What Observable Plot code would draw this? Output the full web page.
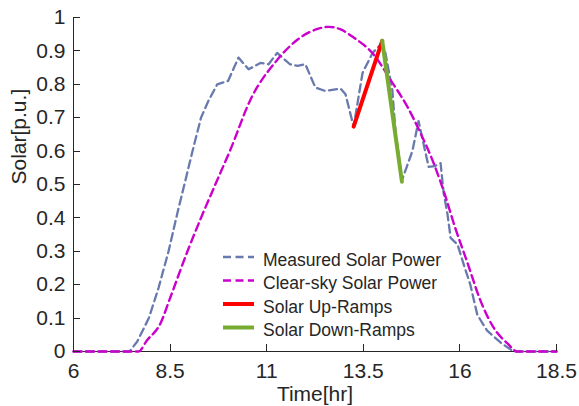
<!DOCTYPE html>
<html>
<head>
<meta charset="utf-8">
<script src="https://cdn.jsdelivr.net/npm/d3@7"></script>
<script src="https://cdn.jsdelivr.net/npm/@observablehq/plot@0.6"></script>
<style>
  html, body { margin: 0; padding: 0; background: #fff; }
  #chart { position: relative; width: 579px; height: 406px; }
  svg { font-family: "Liberation Sans", Arial, Helvetica, sans-serif; }
</style>
</head>
<body>
<div id="chart"></div>
<script>
// ---- Data ----
const measuredTime = [6, 7.45, 7.65, 7.95, 8.2, 8.46, 8.7, 8.87, 9.08, 9.3, 9.49, 9.72, 10.0, 10.27, 10.53, 10.84, 11.05, 11.27, 11.6, 11.8, 12.0, 12.26, 12.52, 12.91, 13.04, 13.25, 13.48, 13.74, 13.95, 14.07, 14.25, 14.33, 14.5, 14.77, 14.93, 15.19, 15.35, 15.5, 15.58, 15.68, 15.76, 15.94, 16.1, 16.27, 16.45, 16.7, 17.05, 17.39, 18.5];
const measuredPower = [0, 0, 0.03, 0.10, 0.19, 0.30, 0.42, 0.50, 0.60, 0.70, 0.75, 0.80, 0.81, 0.88, 0.845, 0.864, 0.86, 0.894, 0.86, 0.855, 0.86, 0.79, 0.78, 0.787, 0.77, 0.673, 0.834, 0.894, 0.919, 0.895, 0.784, 0.664, 0.513, 0.60, 0.69, 0.553, 0.555, 0.564, 0.474, 0.41, 0.34, 0.32, 0.26, 0.20, 0.11, 0.063, 0.027, 0, 0];

const clearTime = [6, 7.68, 7.9, 8.25, 8.5, 8.95, 9.3, 9.67, 10.06, 10.58, 11.28, 11.8, 12.3, 12.6, 12.9, 13.25, 13.77, 14.2, 14.64, 14.98, 15.32, 15.63, 15.84, 16.2, 16.53, 16.87, 17.23, 17.49, 18.5];
const clearPower = [0, 0, 0.033, 0.084, 0.16, 0.30, 0.40, 0.50, 0.604, 0.754, 0.874, 0.934, 0.965, 0.972, 0.965, 0.94, 0.889, 0.814, 0.733, 0.654, 0.564, 0.463, 0.384, 0.264, 0.153, 0.072, 0.024, 0, 0];

const upRampTime = [13.25, 13.99];
const upRampPower = [0.673, 0.93];
const downRampTime = [13.99, 14.5];
const downRampPower = [0.93, 0.508];

const xTicks = [6, 8.5, 11, 13.5, 16, 18.5];
const yTicks = [0, 0.1, 0.2, 0.3, 0.4, 0.5, 0.6, 0.7, 0.8, 0.9, 1];

const legendLabels = ["Measured Solar Power", "Clear-sky Solar Power", "Solar Up-Ramps", "Solar Down-Ramps"];

// ---- Build tables ----
const zip = (ts, vs) => ts.map((t, i) => ({t, v: vs[i]}));
const measured = zip(measuredTime, measuredPower);
const clear = zip(clearTime, clearPower);
const upRamp = zip(upRampTime, upRampPower);
const downRamp = zip(downRampTime, downRampPower);

const colMeasured = "#6879ad";
const colClear = "#cc00cc";
const colUp = "#ff0000";
const colDown = "#77ac30";
const ink = "#262626";
const dash = "8,4.5";

const fontFam = '"Liberation Sans", Arial, Helvetica, sans-serif';

const plot = Plot.plot({
  width: 579,
  height: 406,
  marginLeft: 73,
  marginRight: 23,
  marginTop: 17,
  marginBottom: 55,
  style: {fontFamily: fontFam, fontSize: "21px", color: ink, background: "#fff"},
  x: {domain: [6, 18.5]},
  y: {domain: [0, 1]},
  marks: [
    Plot.axisX(xTicks, {tickSize: 0, tickPadding: 12, fontSize: 21, label: null, tickFormat: d => String(d)}),
    Plot.axisY(yTicks, {tickSize: 0, tickPadding: 8, fontSize: 21, label: null, tickFormat: d => (d === 0 ? "0" : d === 1 ? "1" : d.toFixed(1))}),
    Plot.ruleY([0], {stroke: ink, strokeWidth: 1}),
    Plot.ruleX([6], {stroke: ink, strokeWidth: 1}),
    Plot.line(measured, {x: "t", y: "v", stroke: colMeasured, strokeWidth: 2.3, strokeDasharray: dash}),
    Plot.line(clear, {x: "t", y: "v", stroke: colClear, strokeWidth: 2.4, strokeDasharray: dash, curve: "monotone-x"}),
    Plot.line(upRamp, {x: "t", y: "v", stroke: colUp, strokeWidth: 4}),
    Plot.line(downRamp, {x: "t", y: "v", stroke: colDown, strokeWidth: 4}),
    Plot.text(["Time[hr]"], {frameAnchor: "bottom", dy: 49, fontSize: 21, fill: ink}),
    Plot.text(["Solar[p.u.]"], {frameAnchor: "left", dx: -54, rotate: -90, fontSize: 21, fill: ink})
  ]
});

document.getElementById("chart").appendChild(plot);

const svg = d3.select(plot);
const xs = plot.scale("x");
const ys = plot.scale("y");
const x0 = xs.apply(6), y0 = ys.apply(0);

// ---- Inward ticks ----
const tg = svg.append("g").attr("stroke", ink).attr("stroke-width", 1);
xTicks.forEach(t => {
  const px = Math.round(xs.apply(t)) + 0.5;
  tg.append("line").attr("x1", px).attr("x2", px).attr("y1", y0).attr("y2", y0 - 7);
});
yTicks.forEach(v => {
  const py = Math.round(ys.apply(v)) + 0.5;
  tg.append("line").attr("x1", x0).attr("x2", x0 + 7).attr("y1", py).attr("y2", py);
});

// ---- Legend inside the plot area ----
const legendItems = [
  {label: legendLabels[0], color: colMeasured, dash: dash, width: 2.3},
  {label: legendLabels[1], color: colClear, dash: dash, width: 2.4},
  {label: legendLabels[2], color: colUp, dash: null, width: 4},
  {label: legendLabels[3], color: colDown, dash: null, width: 4}
];
const lg = svg.append("g").attr("transform", "translate(223,257)");
legendItems.forEach((it, i) => {
  const g = lg.append("g").attr("transform", `translate(0,${i * 23.5})`);
  g.append("line").attr("x1", 0).attr("x2", 31).attr("y1", 0).attr("y2", 0)
    .attr("stroke", it.color).attr("stroke-width", it.width)
    .attr("stroke-dasharray", it.dash);
  g.append("text").attr("x", 40).attr("y", 3).attr("dy", "0.32em")
    .attr("text-anchor", "start")
    .attr("font-size", 17.5).attr("fill", ink).attr("font-family", fontFam)
    .text(it.label);
});
</script>
</body>
</html>
